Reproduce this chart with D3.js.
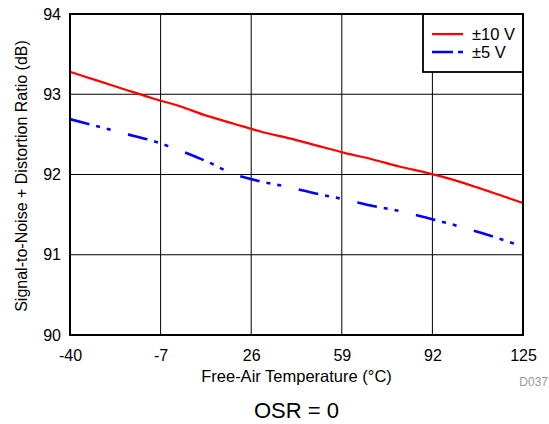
<!DOCTYPE html>
<html><head><meta charset="utf-8">
<script src="https://cdn.jsdelivr.net/npm/d3@7"></script>
<style>body{margin:0;background:#fff}svg{display:block}text{font-family:"Liberation Sans",Arial,sans-serif}</style>
</head><body><svg id="c" width="549" height="424"></svg>
<script>
const temps = [-40,-30,-20,-10,0,10,20,30,40,50,60,70,80,90,100,110,125];
const sinad10 = [93.28,93.17,93.06,92.95,92.85,92.73,92.63,92.53,92.45,92.36,92.27,92.19,92.10,92.02,91.93,91.82,91.645];
const sinad5 = [92.69,92.60,92.51,92.42,92.30,92.16,92.00,91.91,91.84,91.76,91.69,91.61,91.545,91.46,91.37,91.27,91.10];
const xTicks = [-40,-7,26,59,92,125];
const yTicks = [90,91,92,93,94];
const seriesNames = ["±10 V","±5 V"];

const svg = d3.select("#c");
const L=70,R=523,T=14,B=335;
const x = d3.scaleLinear().domain([-40,125]).range([L,R]);
const y = d3.scaleLinear().domain([90,94]).range([B,T]);
const FONT = "Liberation Sans, Arial, sans-serif";

// grid
svg.append("g").selectAll("line").data(xTicks.slice(1,-1)).join("line")
  .attr("x1",d=>x(d)).attr("x2",d=>x(d)).attr("y1",T).attr("y2",B)
  .attr("stroke","#000").attr("stroke-width",1);
svg.append("g").selectAll("line").data(yTicks.slice(1,-1)).join("line")
  .attr("x1",L).attr("x2",R).attr("y1",d=>y(d)).attr("y2",d=>y(d))
  .attr("stroke","#000").attr("stroke-width",1);

// axes labels
const xa = svg.append("g").attr("transform",`translate(0,${B})`)
  .call(d3.axisBottom(x).tickValues(xTicks).tickSize(0).tickPadding(15).tickFormat(d=>String(d)));
xa.select(".domain").remove();
xa.selectAll("text").attr("font-size",16).attr("fill","#000").attr("font-family",FONT);
const ya = svg.append("g").attr("transform",`translate(${L},0)`)
  .call(d3.axisLeft(y).tickValues(yTicks).tickSize(0).tickPadding(9).tickFormat(d=>String(d)));
ya.select(".domain").remove();
ya.selectAll("text").attr("font-size",16).attr("fill","#000").attr("font-family",FONT);

// lines
const line = d3.line().curve(d3.curveMonotoneX);
const pts10 = temps.map((t,i)=>[x(t),y(sinad10[i])]);
const pts5 = temps.map((t,i)=>[x(t),y(sinad5[i])]);
svg.append("path").attr("d",line(pts10)).attr("fill","none").attr("stroke","#ff0000").attr("stroke-width",2.2);
svg.append("path").attr("d",line(pts5)).attr("fill","none").attr("stroke","#0000ff").attr("stroke-width",2.6)
  .attr("stroke-dasharray","20,7,4,7,4,18");

// legend
const lg = svg.append("g");
lg.append("rect").attr("x",423).attr("y",T).attr("width",R-423).attr("height",72-T)
  .attr("fill","#fff").attr("stroke","#000").attr("stroke-width",1.8);
lg.append("line").attr("x1",432).attr("x2",463).attr("y1",34).attr("y2",34).attr("stroke","#ff0000").attr("stroke-width",2.2);
lg.append("line").attr("x1",432).attr("x2",463).attr("y1",52).attr("y2",52).attr("stroke","#0000ff").attr("stroke-width",2.6).attr("stroke-dasharray","21,5,5,20");
lg.append("text").attr("x",472).attr("y",39.5).attr("font-size",16.5).text(seriesNames[0]);
lg.append("text").attr("x",472).attr("y",57.5).attr("font-size",16.5).text(seriesNames[1]);

// frame
svg.append("rect").attr("x",L).attr("y",T).attr("width",R-L).attr("height",B-T)
  .attr("fill","none").attr("stroke","#000").attr("stroke-width",2);

// titles
svg.append("text").attr("x",(L+R)/2).attr("y",382).attr("text-anchor","middle").attr("font-size",16.5).text("Free-Air Temperature (°C)");
svg.append("text").attr("transform",`translate(27,176) rotate(-90)`).attr("text-anchor","middle").attr("font-size",16).text("Signal-to-Noise + Distortion Ratio (dB)");
svg.append("text").attr("x",548).attr("y",386).attr("text-anchor","end").attr("font-size",12).attr("fill","#999").text("D037");
svg.append("text").attr("x",(L+R)/2).attr("y",418).attr("text-anchor","middle").attr("font-size",22).text("OSR = 0");
</script></body></html>
